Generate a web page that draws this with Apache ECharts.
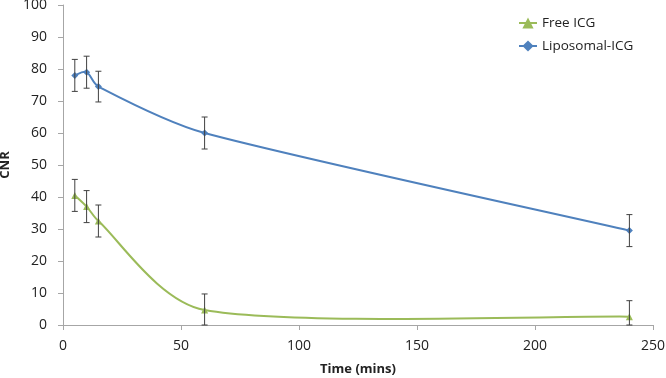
<!DOCTYPE html>
<html>
<head>
<meta charset="utf-8">
<script src="https://cdn.jsdelivr.net/npm/echarts@6/dist/echarts.min.js"></script>
<style>
html, body { margin: 0; padding: 0; background: #fff; }
#chart { width: 666px; height: 378px; }
</style>
</head>
<body>
<div id="chart"></div>
<script>
// 时间点 (mins)
var times = [5, 10, 15, 60, 240];
var freeIcg = [40.5, 37, 32.5, 4.7, 2.6];
var freeErr = [5, 5, 5, 5, 5];
var liposomalIcg = [78, 79, 74.5, 60, 29.5];
var liposomalErr = [5, 5, 4.8, 5, 5];
var xTicks = [0, 50, 100, 150, 200, 250];
var yTicks = [0, 10, 20, 30, 40, 50, 60, 70, 80, 90, 100];

var fontName = 'Open Sans';
var green = '#9bbb59';
var blue = '#4f81bd';

function pairs(vals) {
	return times.map(function(t, i) { return [t, vals[i]]; });
}

function errData(vals, errs) {
	return times.map(function(t, i) {
		return [t, Math.max(0, vals[i] - errs[i]), vals[i] + errs[i]];
	});
}

// 误差线
function errorBar(api) {
	var lo = api.coord([api.value(0), api.value(1)]);
	var hi = api.coord([api.value(0), api.value(2)]);
	var w = 3;
	var style = { stroke: '#404040', lineWidth: 1 };
	return {
		type: 'group',
		children: [
			{ type: 'line', shape: { x1: lo[0], y1: lo[1], x2: hi[0], y2: hi[1] }, style: style },
			{ type: 'line', shape: { x1: lo[0] - w, y1: lo[1], x2: lo[0] + w, y2: lo[1] }, style: style },
			{ type: 'line', shape: { x1: hi[0] - w, y1: hi[1], x2: hi[0] + w, y2: hi[1] }, style: style }
		]
	};
}

function dist(a, b) {
	return Math.sqrt((a[0] - b[0]) * (a[0] - b[0]) + (a[1] - b[1]) * (a[1] - b[1]));
}

// 平滑曲线 (类似 Excel 的平滑线), 每段一个 bezier
function smoothSeg(vals, color) {
	return function(params, api) {
		var i = params.dataIndex;
		var n = times.length;
		if (i >= n - 1) return null;
		var p = function(k) {
			k = Math.max(0, Math.min(n - 1, k));
			return api.coord([times[k], vals[k]]);
		};
		// 某点的控制点: side=1 向后, side=-1 向前
		var ctrl = function(k, side) {
			var prev = p(k - 1), cur = p(k), next = p(k + 1);
			var vx = next[0] - prev[0], vy = next[1] - prev[1];
			var len = Math.sqrt(vx * vx + vy * vy) || 1;
			var seg = side > 0 ? dist(cur, next) : dist(cur, prev);
			var d = Math.min(len / 6, seg / 3);
			return [cur[0] + side * vx / len * d, cur[1] + side * vy / len * d];
		};
		var p1 = p(i), p2 = p(i + 1);
		var c1 = ctrl(i, 1);
		var c2 = ctrl(i + 1, -1);
		return {
			type: 'bezierCurve',
			shape: { x1: p1[0], y1: p1[1], x2: p2[0], y2: p2[1], cpx1: c1[0], cpy1: c1[1], cpx2: c2[0], cpy2: c2[1] },
			style: { stroke: color, lineWidth: 2, fill: null }
		};
	};
}

var chart = echarts.init(document.getElementById('chart'));
var option = {
	backgroundColor: '#fff',
	animation: false,
	grid: {
		left: 63,
		right: 13,
		top: 5,
		bottom: 53,
		containLabel: false,
		outerBoundsMode: 'none'
	},
	legend: {
		orient: 'vertical',
		left: 513,
		top: 11,
		itemGap: 9,
		itemWidth: 18,
		itemHeight: 14,
		textStyle: {
			fontFamily: fontName,
			fontSize: 13.5,
			color: '#222'
		},
		data: [{
			name: 'Free ICG',
			lineStyle: { color: green, width: 2, opacity: 1 }
		}, {
			name: 'Liposomal-ICG',
			lineStyle: { color: blue, width: 2, opacity: 1 }
		}]
	},
	xAxis: {
		type: 'value',
		min: 0,
		max: 250,
		interval: 50,
		name: 'Time (mins)',
		nameLocation: 'middle',
		nameGap: 38,
		nameTextStyle: {
			fontFamily: fontName,
			fontSize: 13,
			fontWeight: 'bold',
			color: '#222'
		},
		axisLine: { lineStyle: { color: '#a6a6a6', width: 1 } },
		axisTick: { show: true, length: 5, lineStyle: { color: '#a6a6a6' } },
		splitLine: { show: false },
		axisLabel: {
			fontFamily: fontName,
			fontSize: 14,
			color: '#222',
			margin: 14,
			formatter: function(v) { return xTicks.indexOf(v) >= 0 ? v : ''; }
		}
	},
	yAxis: {
		type: 'value',
		min: 0,
		max: 100,
		interval: 10,
		name: 'CNR',
		nameLocation: 'middle',
		nameGap: 48,
		nameTextStyle: {
			fontFamily: fontName,
			fontSize: 13,
			fontWeight: 'bold',
			color: '#222'
		},
		axisLine: { show: true, lineStyle: { color: '#a6a6a6', width: 1 } },
		axisTick: { show: true, length: 5, lineStyle: { color: '#a6a6a6' } },
		splitLine: { show: false },
		axisLabel: {
			fontFamily: fontName,
			fontSize: 14,
			color: '#222',
			margin: 16,
			formatter: function(v) { return yTicks.indexOf(v) >= 0 ? v : ''; }
		}
	},
	series: [{
			name: 'Free ICG',
			type: 'line',
			symbol: 'triangle',
			symbolSize: 7,
			color: green,
			lineStyle: { width: 2, color: green, opacity: 0 },
			itemStyle: { color: green },
			z: 3,
			data: pairs(freeIcg)
		},
		{
			name: 'Liposomal-ICG',
			type: 'line',
			symbol: 'diamond',
			symbolSize: 7,
			color: blue,
			lineStyle: { width: 2, color: blue, opacity: 0 },
			itemStyle: { color: blue },
			z: 3,
			data: pairs(liposomalIcg)
		},
		{
			name: 'freeCurve',
			type: 'custom',
			renderItem: smoothSeg(freeIcg, green),
			z: 2,
			data: pairs(freeIcg)
		},
		{
			name: 'liposomalCurve',
			type: 'custom',
			renderItem: smoothSeg(liposomalIcg, blue),
			z: 2,
			data: pairs(liposomalIcg)
		},
		{
			name: 'freeErr',
			type: 'custom',
			renderItem: function(params, api) { return errorBar(api); },
			encode: { x: 0, y: [1, 2] },
			z: 4,
			data: errData(freeIcg, freeErr)
		},
		{
			name: 'liposomalErr',
			type: 'custom',
			renderItem: function(params, api) { return errorBar(api); },
			encode: { x: 0, y: [1, 2] },
			z: 4,
			data: errData(liposomalIcg, liposomalErr)
		}
	]
};
chart.setOption(option);
</script>
</body>
</html>
